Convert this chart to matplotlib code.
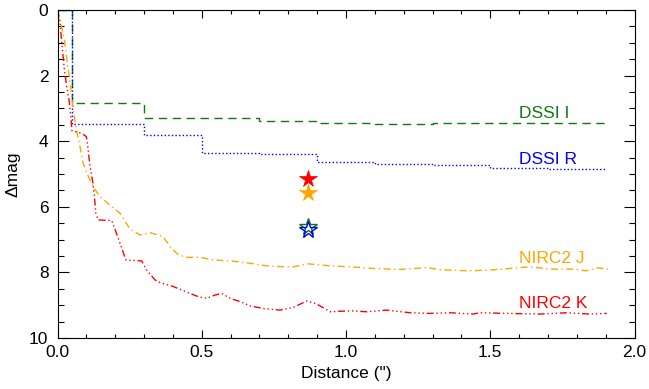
#!/usr/bin/env python3
"""Contrast curves (delta mag vs separation) for DSSI and NIRC2 bands."""

import matplotlib.pyplot as plt
from matplotlib.ticker import MultipleLocator

plt.rcParams["font.family"] = ["Liberation Sans", "DejaVu Sans"]
plt.rcParams["font.size"] = 12.5

# DSSI contrast curves (stepped)
dssi_sep = [0, 0.05, 0.1, 0.2, 0.3, 0.5, 0.7, 0.9, 1.1, 1.3, 1.5, 1.7, 1.9]
dssi_i = [0, 2.85, 2.85, 2.85, 3.28, 3.30, 3.38, 3.45, 3.47, 3.46, 3.45, 3.46, 3.48]
dssi_r = [0, 3.47, 3.47, 3.47, 3.80, 4.35, 4.38, 4.63, 4.68, 4.74, 4.83, 4.84, 4.86]

# NIRC2 J
j_sep = [0, 0.018, 0.026, 0.034, 0.043, 0.049, 0.057, 0.066, 0.078, 0.089,
         0.107, 0.124, 0.147, 0.182, 0.217, 0.251, 0.286, 0.321, 0.367, 0.39,
         0.413, 0.442, 0.494, 0.54, 0.598, 0.667, 0.725, 0.812, 0.869, 0.945,
         1.014, 1.095, 1.187, 1.28, 1.326, 1.418, 1.499, 1.568, 1.638, 1.707,
         1.788, 1.834, 1.869, 1.91]
j_dmag = [0, 0.66, 1.02, 1.63, 2.13, 2.64, 3.18, 3.66, 4.17, 4.67,
          5.08, 5.39, 5.69, 5.95, 6.2, 6.68, 6.86, 6.79, 6.91, 7.22,
          7.42, 7.54, 7.54, 7.62, 7.65, 7.72, 7.8, 7.84, 7.74, 7.8,
          7.83, 7.88, 7.91, 7.85, 7.92, 7.95, 7.93, 7.88, 7.83, 7.9,
          7.9, 7.95, 7.86, 7.9]

# NIRC2 K
k_sep = [0, 0.009, 0.015, 0.024, 0.032, 0.04, 0.046, 0.05, 0.084, 0.1,
         0.105, 0.113, 0.122, 0.128, 0.133, 0.141, 0.188, 0.2, 0.237, 0.292,
         0.309, 0.338, 0.355, 0.401, 0.459, 0.488, 0.517, 0.546, 0.569, 0.598,
         0.633, 0.667, 0.713, 0.771, 0.817, 0.864, 0.898, 0.945, 1.014, 1.072,
         1.141, 1.222, 1.291, 1.36, 1.441, 1.464, 1.557, 1.672, 1.765, 1.846,
         1.904]
k_dmag = [0, 0.41, 1.02, 1.83, 2.34, 2.74, 3.22, 3.68, 3.76, 3.86,
          4.17, 4.78, 5.23, 5.69, 6.2, 6.4, 6.42, 6.7, 7.62, 7.65,
          7.93, 8.23, 8.31, 8.43, 8.64, 8.74, 8.79, 8.69, 8.64, 8.79,
          8.89, 9.02, 9.1, 9.15, 9.07, 8.87, 8.96, 9.2, 9.17, 9.2,
          9.15, 9.23, 9.25, 9.23, 9.27, 9.23, 9.25, 9.27, 9.23, 9.27,
          9.25]

# companion measurements
star_sep = [0.867, 0.867, 0.867, 0.867]
star_dmag = [5.14, 5.58, 6.62, 6.71]
star_color = ["red", "orange", "#117711", "blue"]
star_filled = [True, True, False, False]

labels = ["DSSI I", "DSSI R", "NIRC2 J", "NIRC2 K"]
label_y = [3.17, 4.57, 7.59, 8.96]
colors = ["#117711", "blue", "orange", "red"]


def main():
    fig = plt.figure(figsize=(6.49, 3.89), dpi=100)
    ax = fig.add_axes([0.0886, 0.1311, 0.8891, 0.8432])

    ax.plot(dssi_sep, dssi_i, drawstyle="steps-post", color=colors[0], lw=1,
            dashes=(6, 4))
    ax.plot(dssi_sep, dssi_r, drawstyle="steps-post", color=colors[1], lw=1,
            dashes=(1, 1.6))
    ax.plot(j_sep, j_dmag, color=colors[2], lw=1, dashes=(5, 2.5, 1, 2.5))
    ax.plot(k_sep, k_dmag, color=colors[3], lw=1,
            dashes=(5, 2, 1, 2, 1, 2, 1, 2))

    for x, y, c, filled in zip(star_sep, star_dmag, star_color, star_filled):
        ax.plot(x, y, marker="*", ms=13, ls="none",
                mfc=c if filled else "none", mec=c, mew=1 if not filled else 0.5)

    for text, y, c in zip(labels, label_y, colors):
        ax.text(1.6, y, text, color=c, va="center", ha="left")

    ax.set_xlim(0, 2.0)
    ax.set_ylim(10, 0)
    ax.xaxis.set_major_locator(MultipleLocator(0.5))
    ax.xaxis.set_minor_locator(MultipleLocator(0.1))
    ax.yaxis.set_major_locator(MultipleLocator(2))
    ax.yaxis.set_minor_locator(MultipleLocator(0.5))
    ax.xaxis.set_major_formatter(plt.FormatStrFormatter("%.1f"))

    ax.tick_params(which="both", direction="in", top=True, right=True, width=0.8)
    ax.tick_params(axis="x", which="major", length=5.8, pad=5)
    ax.tick_params(axis="x", which="minor", length=2.9)
    ax.tick_params(axis="y", which="major", length=7.9, pad=6.5)
    ax.tick_params(axis="y", which="minor", length=4.1)
    for s in ax.spines.values():
        s.set_linewidth(0.8)

    ax.set_xlabel('Distance (")', labelpad=4)
    ax.set_ylabel("Δmag", labelpad=6)

    fig.savefig("out.png", dpi=100)


if __name__ == "__main__":
    main()
